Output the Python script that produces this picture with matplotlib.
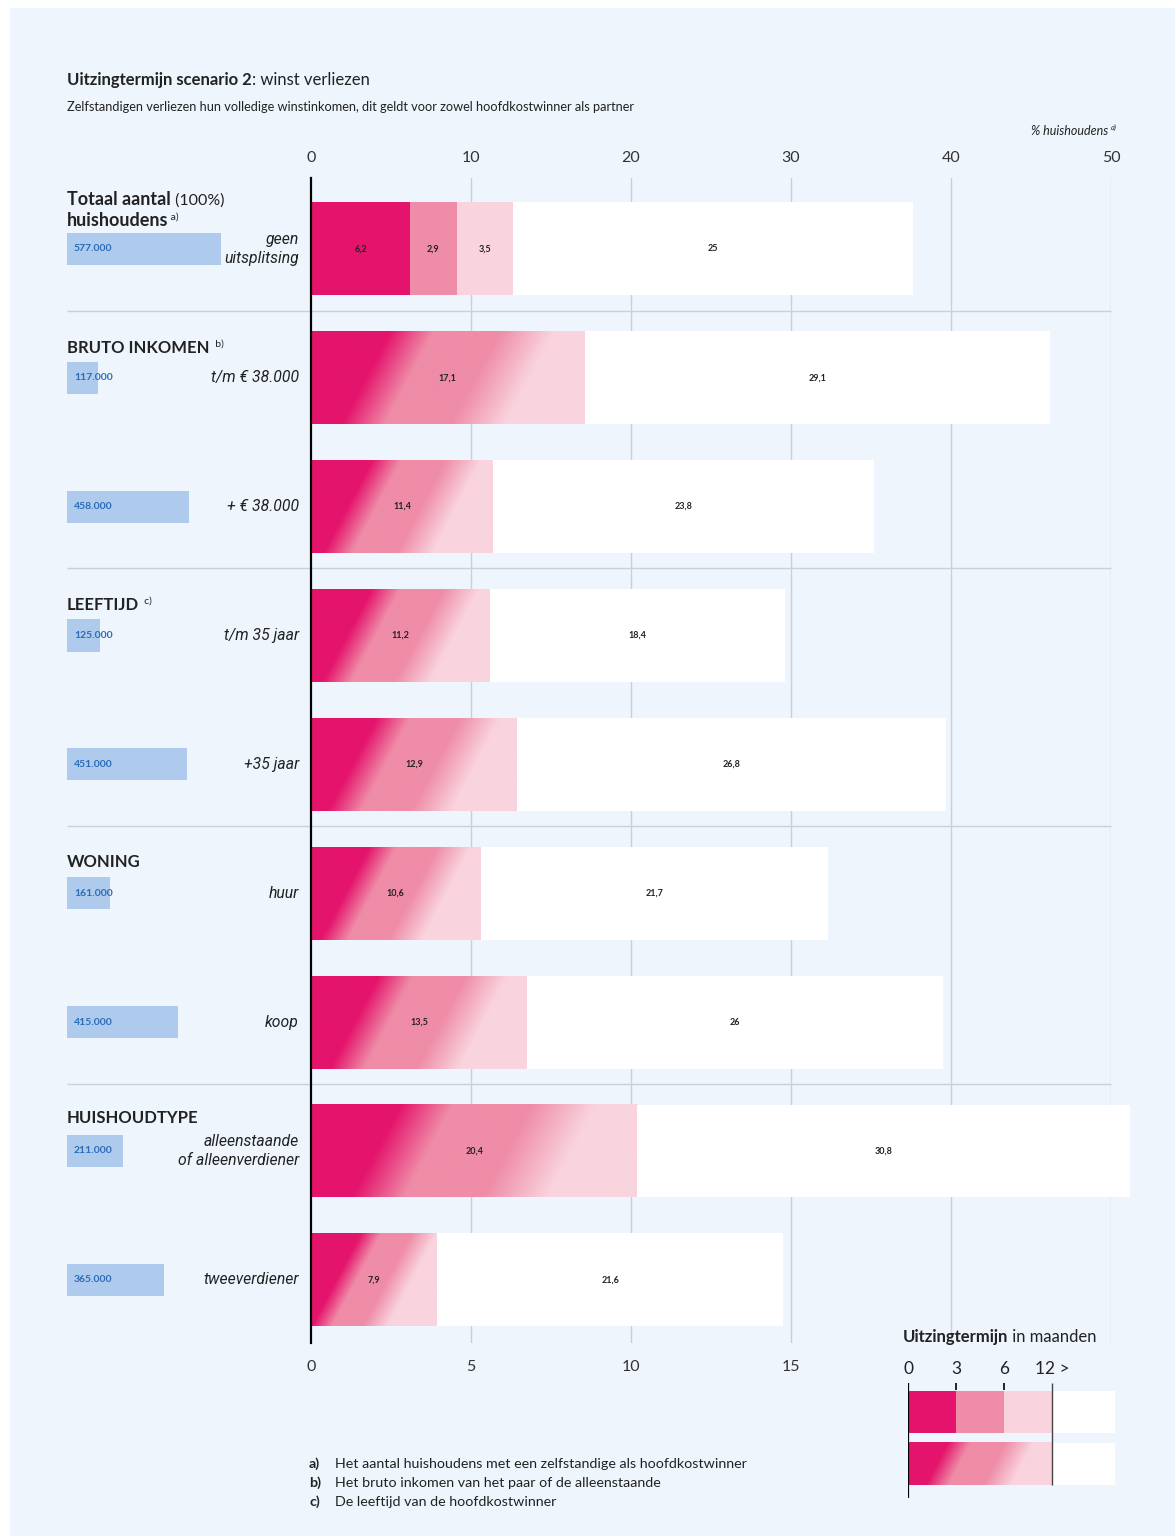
import matplotlib
matplotlib.use('Agg')
import matplotlib.pyplot as plt
import numpy as np
from matplotlib import font_manager
from matplotlib.colors import to_rgb
from matplotlib.patches import Rectangle

plt.rcParams['font.family'] = ['Lato', 'DejaVu Sans']

# ---- data ----
row_labels = ['geen\nuitsplitsing', 't/m € 38.000', '+ € 38.000', 't/m 35 jaar', '+35 jaar',
              'huur', 'koop', 'alleenstaande\nof alleenverdiener', 'tweeverdiener']
households = [577, 117, 458, 125, 451, 161, 415, 211, 365]   # x 1000
household_labels = ['577.000', '117.000', '458.000', '125.000', '451.000',
                    '161.000', '415.000', '211.000', '365.000']
# totaal: uitsplitsing 0-3, 3-6, 6-12 maanden
total_split = [6.2, 2.9, 3.5]
# overige rijen: tot 12 maanden (verloop) en langer dan 12 maanden
under12 = [None, 17.1, 11.4, 11.2, 12.9, 10.6, 13.5, 20.4, 7.9]
over12 = [25, 29.1, 23.8, 18.4, 26.8, 21.7, 26, 30.8, 21.6]

groups = [('BRUTO INKOMEN', 'b)', 353), ('LEEFTIJD', 'c)', 610),
          ('WONING', None, 867), ('HUISHOUDTYPE', None, 1123)]
top_ticks = [0, 10, 20, 30, 40, 50]
bottom_ticks = [0, 5, 10, 15]
legend_ticks = ['0', '3', '6', '12 >']
footnotes = [('a)', 'Het aantal huishoudens met een zelfstandige als hoofdkostwinner'),
             ('b)', 'Het bruto inkomen van het paar of de alleenstaande'),
             ('c)', 'De leeftijd van de hoofdkostwinner')]

dark, mid, light = '#e4146c', '#ef8ca7', '#f9d4de'
bluebar = '#aecaec'
gridc = '#c9d0d9'
txt = '#222222'

names = {f.name for f in font_manager.fontManager.ttflist}
cat_font = 'Liberation Sans Narrow' if 'Liberation Sans Narrow' in names else 'Roboto'

W, H = 1175, 1536
fig = plt.figure(figsize=(W / 100, H / 100), dpi=100)
fig.patch.set_facecolor('white')
fig.add_artist(Rectangle((10 / W, 0), 1, 1 - 8 / H, transform=fig.transFigure,
                         color='#eef5fd', zorder=-10))
renderer = fig.canvas.get_renderer()


def fx(px):
    return px / W


def fy(py):
    return 1 - py / H


def text_runs(x_px, y_px, parts):
    # parts: (text, fontsize, weight, style, raise_px)
    x = fx(x_px)
    for s, size, weight, style, rise in parts:
        t = fig.text(x, fy(y_px) + rise / H, s, fontsize=size, fontweight=weight,
                     style=style, va='baseline', ha='left', color=txt)
        bb = t.get_window_extent(renderer)
        x = bb.x1 / W


stops = [0, 0.2, 0.36, 0.6, 0.8, 1]
stop_cols = np.array([to_rgb(c) for c in [dark, dark, mid, mid, light, light]])


def gradient(a, x0, length, yc, h, slant):
    X, V = np.meshgrid(np.linspace(0, 1, 400), np.linspace(0.5, -0.5, 50))
    t = X - slant / length * V
    img = np.dstack([np.interp(t, stops, stop_cols[:, k]) for k in range(3)])
    im = a.imshow(img, extent=(x0, x0 + length, yc + h / 2, yc - h / 2), origin='upper',
                  aspect='auto', interpolation='bilinear', zorder=2)
    im.set_clip_on(False)


# ---- main axes ----
ax = fig.add_axes([fx(311), fy(1343), (1111 - 311) / W, (1343 - 178) / H])
ax.set_facecolor('none')
n = len(row_labels)
ylim = (8.49, -0.55)
bh = 0.72

for g in top_ticks[1:]:
    ax.axvline(g, color=gridc, lw=1, zorder=0)

for i in range(n):
    if under12[i] is None:
        left = 0
        for v, c in zip(total_split, [dark, mid, light]):
            ax.barh(i, v, left=left, height=bh, color=c, zorder=2, clip_on=False)
            ax.text(left + v / 2, i, f'{v:g}'.replace('.', ','), ha='center', va='center',
                    fontsize=6.5, fontweight='bold', color=txt, zorder=4)
            left += v
    else:
        left = under12[i]
        gradient(ax, 0, left, i, bh, 3.0)
        ax.text(left / 2, i, f'{left:g}'.replace('.', ','), ha='center', va='center',
                fontsize=6.5, fontweight='bold', color=txt, zorder=4)
    ax.barh(i, over12[i], left=left, height=bh, color='white', zorder=2, clip_on=False)
    ax.text(left + over12[i] / 2, i, f'{over12[i]:g}'.replace('.', ','), ha='center',
            va='center', fontsize=6.5, fontweight='bold', color=txt, zorder=4)
    ax.text(-0.75, i, row_labels[i], ha='right', va='center', style='italic',
            family=[cat_font, 'DejaVu Sans'], fontsize=11.3, color=txt,
            multialignment='right', linespacing=1.35, clip_on=False)

ax.hlines([0.48, 2.48, 4.48, 6.48], -15.25, 50, color=gridc, lw=1, clip_on=False, zorder=1)

ax.set_xlim(0, 50)
ax.set_ylim(*ylim)
ax.set_yticks([])
ax.xaxis.tick_top()
ax.set_xticks(top_ticks)
ax.tick_params(axis='x', length=0, pad=9, labelsize=11.5, colors='#333333')
for s in ['top', 'right', 'bottom']:
    ax.spines[s].set_visible(False)
ax.spines['left'].set_linewidth(1.6)
ax.spines['left'].set_zorder(5)

sec = ax.secondary_xaxis('bottom', functions=(lambda x: x / 2, lambda x: x * 2))
sec.set_xticks(bottom_ticks)
sec.tick_params(length=0, pad=12, labelsize=11.5, colors='#333333')
sec.spines['bottom'].set_visible(False)

# ---- household counts ----
bax = fig.add_axes([fx(67), fy(1343), (311 - 67) / W, (1343 - 178) / H])
bax.set_facecolor('none')
bax.barh(range(n), households, height=0.25, color=bluebar)
for i in range(n):
    bax.text(26, i, household_labels[i], va='center', ha='left', fontsize=7.5,
             fontweight='bold', color='#2b6cb8')
bax.set_xlim(0, 914)
bax.set_ylim(*ylim)
bax.axis('off')

# ---- titles and headers ----
text_runs(67, 85, [('Uitzingtermijn scenario 2', 12, 'bold', 'normal', 0),
                   (': winst verliezen', 12, 'normal', 'normal', 0)])
fig.text(fx(67), fy(111), 'Zelfstandigen verliezen hun volledige winstinkomen, dit geldt voor zowel '
         'hoofdkostwinner als partner', fontsize=9.2, va='baseline', color=txt)
fig.text(fx(1108), fy(135), '% huishoudens', fontsize=9, style='italic', ha='right',
         va='baseline', color=txt)
fig.text(fx(1111), fy(135) + 5 / H, 'a)', fontsize=5.5, style='italic', ha='left',
         va='baseline', color=txt)

text_runs(67, 205, [('Totaal aantal', 13, 'bold', 'normal', 0),
                    (' (100%)', 11.5, 'normal', 'normal', 0)])
text_runs(67, 226, [('huishoudens', 13, 'bold', 'normal', 0),
                    (' a)', 7.5, 'normal', 'normal', 6)])
for name, note, y in groups:
    parts = [(name, 12, 'bold', 'normal', 0)]
    if note:
        parts.append(('  ' + note, 7.5, 'normal', 'normal', 6))
    text_runs(67, y, parts)

# ---- footnotes ----
for k, (lab, s) in enumerate(footnotes):
    yb = 1468 + 19 * k
    fig.text(fx(309), fy(yb), lab, fontsize=10.3, fontweight='bold', va='baseline', color=txt)
    fig.text(fx(335), fy(yb), s, fontsize=10.3, va='baseline', color=txt)

# ---- legend ----
text_runs(903, 1342, [('Uitzingtermijn', 12, 'bold', 'normal', 0),
                      (' in maanden', 12, 'normal', 'normal', 0)])
lax = fig.add_axes([fx(908), fy(1498), (1115 - 908) / W, (1498 - 1383) / H])
lax.set_facecolor('none')
lylim = (1.654, -0.558)
lh = 0.81
left = 0
for w, c in zip([1, 1, 1, 1.32], [dark, mid, light, 'white']):
    lax.barh(0, w, left=left, height=lh, color=c, zorder=2)
    left += w
gradient(lax, 0, 3, 1, lh, 0.46)
lax.barh(1, 1.32, left=3, height=lh, color='white', zorder=2)
lax.vlines(0, lylim[1], lylim[0], color='black', lw=1.6, zorder=5)
lax.vlines([1, 2], lylim[1], -0.42, color='black', lw=1.2, zorder=5)
lax.vlines(3, lylim[1], 1 + lh / 2, color='#444444', lw=1, zorder=5)
for k, lab in enumerate(legend_ticks):
    if k < 3:
        lax.text(k, -0.83, lab, ha='center', va='center', fontsize=12.5, color=txt, clip_on=False)
    else:
        lax.text(2.66, -0.83, lab, ha='left', va='center', fontsize=12.5, color=txt, clip_on=False)
lax.set_xlim(0, 4.32)
lax.set_ylim(*lylim)
lax.axis('off')

fig.savefig('out.png', dpi=100)
